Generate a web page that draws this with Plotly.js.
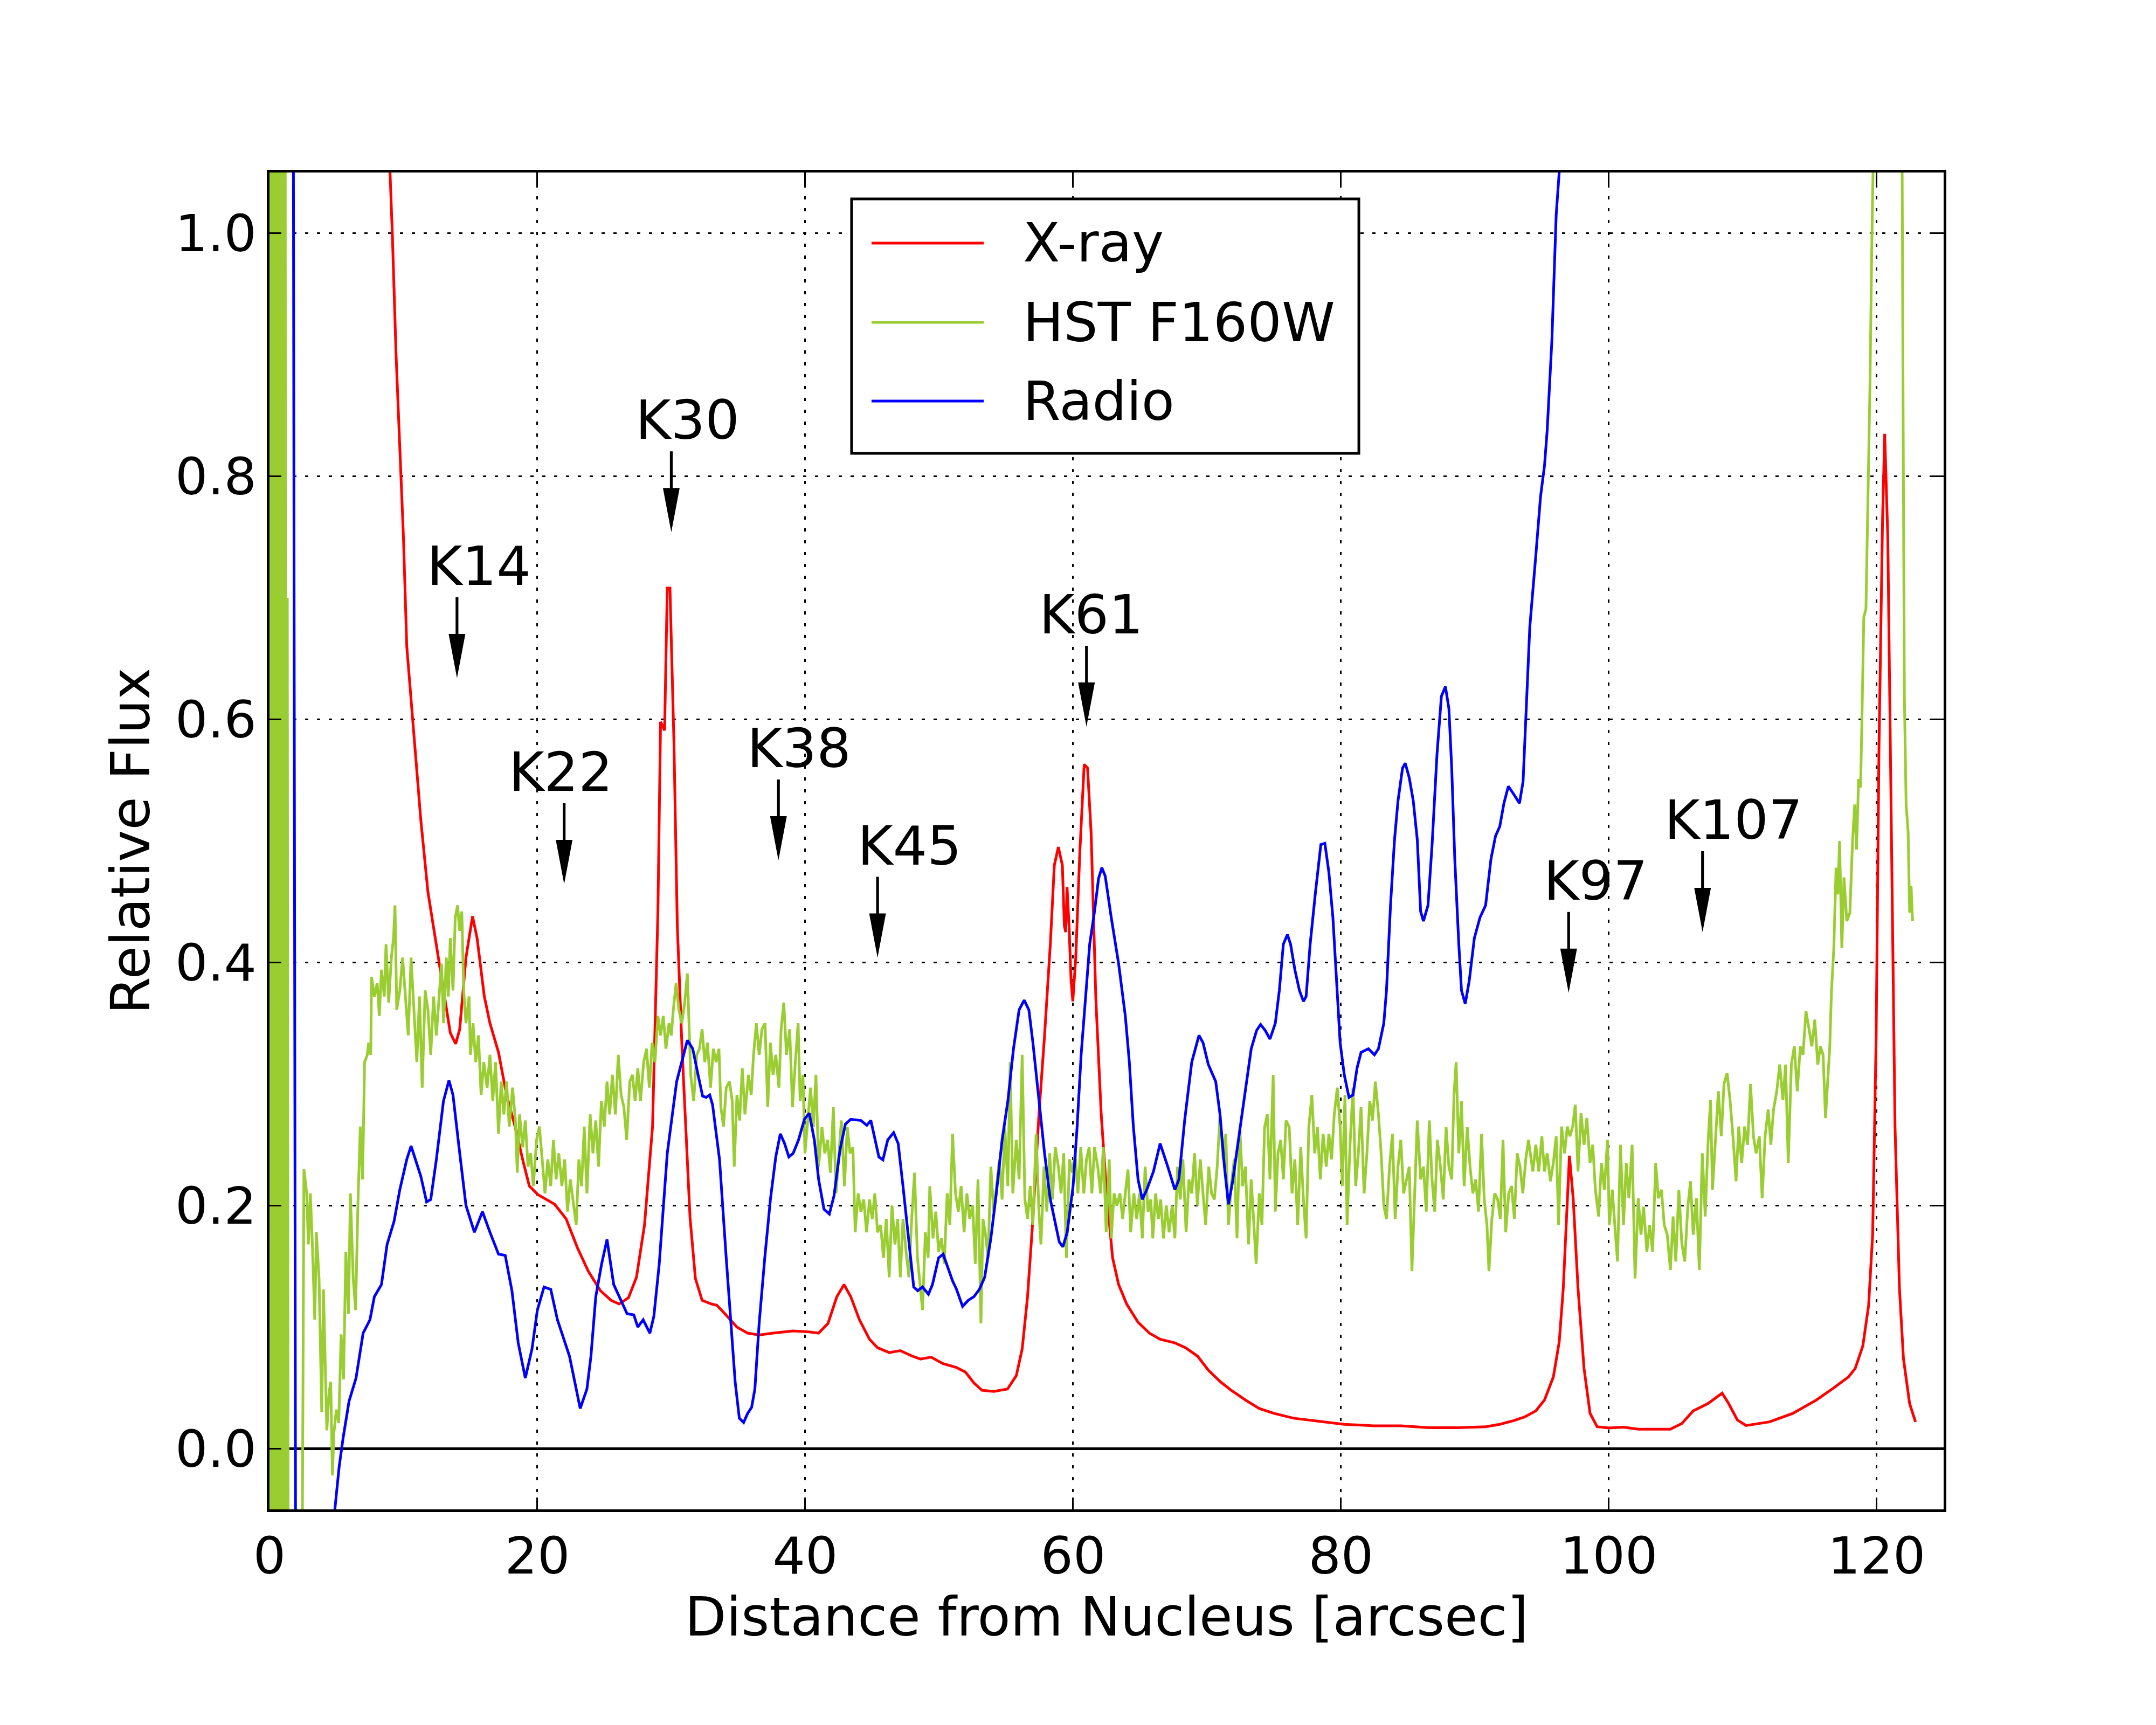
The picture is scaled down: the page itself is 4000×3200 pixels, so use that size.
<!DOCTYPE html>
<html>
<head>
<meta charset="utf-8">
<script src="https://cdn.plot.ly/plotly-3.0.1.min.js"></script>
<style>html,body{margin:0;padding:0;background:#fff;}#chart{width:4000px;height:3200px;}</style>
</head>
<body>
<div id="chart"></div>
<script>
// ---------------- data ----------------
const xrayX = [0,4,7.5,8.5,9.0,9.17,9.45,9.8,10.0,10.25,10.67,11.3,11.83,12.46,12.99,13.5,13.9,14.2,14.67,15.16,15.5,16.04,16.46,17.1,17.7,18.36,18.9,19.4,20.04,21.3,22.15,23.0,23.8,24.7,25.5,26.1,26.8,27.4,28.0,28.6,29.0,29.2,29.5,29.7,29.9,30.2,30.45,30.8,31.1,31.4,31.8,32.3,33.0,33.4,34.0,34.9,35.7,36.56,37.6,39.1,40.15,41.0,41.7,42.36,42.9,43.4,44.05,44.8,45.4,46.27,47.1,47.95,48.6,49.4,50.27,51.3,51.96,52.6,53.2,54.07,55.1,55.76,56.2,56.6,57.0,57.45,57.87,58.3,58.6,58.9,59.2,59.35,59.45,59.55,59.7,59.85,59.98,60.2,60.5,60.83,61.08,61.35,61.7,62.1,62.5,62.95,63.4,64.0,64.85,65.7,66.5,67.6,68.4,69.3,70.1,71.0,71.8,72.87,73.9,75.0,76.46,78.1,80.25,82.4,84.5,86.6,88.7,90.8,91.86,92.9,93.7,94.55,95.2,95.86,96.3,96.6,96.84,97.06,97.34,97.7,98.15,98.6,99.13,100.0,101.1,102.2,103.3,104.6,105.45,106.3,107.4,108.46,108.9,109.6,110.25,112.0,113.74,115.5,116.8,117.9,118.4,118.97,119.4,119.7,119.96,120.17,120.44,120.6,120.83,121.05,121.37,121.7,122.0,122.46,122.9];
const xrayY = [5,3.2,1.9,1.3,1.05,1.0,0.9,0.8,0.75,0.66,0.603,0.517,0.458,0.415,0.377,0.342,0.333,0.345,0.404,0.438,0.42,0.372,0.35,0.326,0.291,0.264,0.238,0.216,0.209,0.201,0.189,0.165,0.146,0.130,0.122,0.119,0.124,0.141,0.184,0.265,0.442,0.598,0.591,0.708,0.708,0.58,0.43,0.33,0.26,0.19,0.14,0.122,0.119,0.118,0.111,0.1,0.095,0.0935,0.095,0.0968,0.0962,0.095,0.103,0.125,0.135,0.125,0.106,0.09,0.083,0.079,0.0806,0.0763,0.0737,0.0753,0.07,0.0667,0.063,0.054,0.048,0.047,0.049,0.06,0.082,0.125,0.189,0.275,0.34,0.415,0.48,0.495,0.48,0.43,0.425,0.462,0.43,0.385,0.368,0.404,0.49,0.563,0.56,0.506,0.37,0.275,0.211,0.157,0.135,0.119,0.104,0.095,0.09,0.087,0.083,0.076,0.0645,0.055,0.048,0.04,0.033,0.029,0.025,0.0226,0.02,0.0188,0.0188,0.0172,0.0172,0.018,0.02,0.023,0.026,0.031,0.04,0.059,0.088,0.132,0.191,0.241,0.206,0.132,0.066,0.029,0.018,0.017,0.0176,0.016,0.016,0.016,0.0206,0.031,0.037,0.0456,0.038,0.0235,0.019,0.022,0.029,0.04,0.05,0.059,0.066,0.0846,0.118,0.176,0.338,0.574,0.765,0.835,0.75,0.544,0.265,0.132,0.074,0.037,0.022];

const hstX = [0.05,0.12,0.2,0.28,0.36,0.44,0.52,0.6,0.68,0.76,0.84,0.92,1.0,1.08,1.16,1.24,1.33,1.4,1.9,2.4,
2.57,2.78,2.9,3.05,3.2,3.38,3.5,3.7,3.9,4.03,4.28,4.45,4.57,4.7,4.8,4.99,5.17,5.35,5.53,5.7,5.9,6.04,6.25,6.43,6.6,6.78,6.95,7.1,7.3,7.4,7.56,7.62,7.83,8.04,8.2,8.36,8.57,8.7,8.9,9.1,9.26,9.37,9.5,9.73,9.94,10.15,10.36,10.57,10.78,11.0,11.2,11.4,11.62,11.83,12.04,12.25,12.46,12.67,12.84,13.0,13.2,13.35,13.5,13.7,13.87,14.04,14.2,14.36,14.5,14.67,14.9,15.0,15.2,15.4,15.6,15.8,16.0,16.25,16.46,16.67,16.88,17.1,17.3,17.5,17.7,17.9,18.15,18.36,18.5,18.67,18.9,19.1,19.3,19.5,19.7,19.94,20.15,20.36,20.57,20.78,21.0,21.2,21.4,21.6,21.83,22.04,22.25,22.46,22.67,22.9,23.1,23.3,23.5,23.7,23.94,24.15,24.36,24.57,24.78,25.0,25.2,25.4,25.6,25.83,26.04,26.25,26.46,26.67,26.9,27.1,27.3,27.5,27.7,27.94,28.15,28.36,28.57,28.78,29.0,29.2,29.4,29.6,29.83,30.0,30.15,30.36,30.57,30.78,31.0,31.2,31.45,31.67,31.9,32.1,32.3,32.5,32.7,32.93,33.14,33.35,33.56,33.7,33.9,34.1,34.35,34.55,34.7,34.9,35.1,35.3,35.5,35.76,35.97,36.14,36.35,36.56,36.77,37.0,37.2,37.4,37.6,37.8,38.04,38.2,38.4,38.6,38.84,39.05,39.26,39.47,39.62,39.83,39.98,40.2,40.4,40.6,40.8,41.0,41.25,41.46,41.67,41.88,42.1,42.3,42.5,42.7,42.93,43.14,43.35,43.56,43.73,43.95,44.16,44.37,44.58,44.8,45.0,45.2,45.4,45.63,45.84,46.05,46.27,46.48,46.7,46.9,47.1,47.3,47.53,47.74,47.95,48.16,48.38,48.6,48.76,48.97,49.18,49.3,49.54,49.75,49.96,50.17,50.38,50.6,50.8,51.0,51.22,51.43,51.64,51.86,52.07,52.28,52.5,52.7,52.9,53.12,53.27,53.44,53.65,53.86,54.07,54.28,54.5,54.7,54.9,55.13,55.3,55.5,55.76,55.97,56.2,56.4,56.6,56.8,57.0,57.24,57.45,57.6,57.83,58.04,58.25,58.46,58.67,58.9,59.1,59.3,59.5,59.73,59.94,60.15,60.36,60.57,60.8,61.0,61.2,61.4,61.6,61.84,62.05,62.26,62.47,62.7,62.85,63.06,63.27,63.5,63.7,63.9,64.1,64.3,64.54,64.75,64.96,65.17,65.38,65.6,65.8,65.95,66.16,66.37,66.54,66.75,66.96,67.17,67.4,67.6,67.8,68.0,68.2,68.44,68.65,68.86,69.07,69.28,69.5,69.7,69.9,70.13,70.34,70.55,70.76,70.97,71.2,71.4,71.6,71.8,72.03,72.24,72.45,72.66,72.87,73.1,73.3,73.5,73.67,73.9,74.1,74.3,74.5,74.7,74.94,75.1,75.3,75.5,75.7,75.9,76.14,76.35,76.56,76.77,77.0,77.2,77.4,77.6,77.83,78.04,78.25,78.46,78.67,78.9,79.1,79.3,79.5,79.73,79.94,80.1,80.3,80.46,80.67,80.9,81.1,81.3,81.5,81.73,81.94,82.15,82.36,82.57,82.8,83.0,83.2,83.4,83.63,83.84,84.05,84.26,84.47,84.68,84.9,85.1,85.3,85.5,85.7,85.95,86.16,86.37,86.6,86.8,87.0,87.2,87.43,87.64,87.85,88.06,88.27,88.44,88.6,88.8,89.0,89.2,89.43,89.64,89.85,90.06,90.27,90.5,90.7,90.9,91.05,91.27,91.48,91.7,91.9,92.1,92.3,92.53,92.74,92.95,93.16,93.37,93.58,93.8,94.0,94.2,94.33,94.55,94.77,95.0,95.2,95.4,95.64,95.86,96.07,96.25,96.47,96.7,96.9,97.1,97.3,97.5,97.7,97.93,98.15,98.36,98.6,98.8,99.0,99.24,99.45,99.67,99.9,100.04,100.26,100.5,100.65,100.87,101.1,101.3,101.5,101.74,101.96,102.2,102.4,102.6,102.84,103.05,103.27,103.5,103.7,103.93,104.14,104.36,104.6,104.8,105.0,105.23,105.45,105.67,105.9,106.1,106.3,106.54,106.76,106.98,107.2,107.4,107.6,107.74,107.96,108.18,108.4,108.6,108.83,109.05,109.27,109.5,109.7,109.92,110.14,110.36,110.58,110.8,111.0,111.24,111.45,111.67,111.9,112.1,112.3,112.54,112.76,113.0,113.2,113.4,113.63,113.85,114.07,114.3,114.5,114.72,114.94,115.16,115.38,115.6,115.8,116.0,116.18,116.36,116.5,116.62,116.8,116.97,117.1,117.23,117.4,117.56,117.77,118.0,118.2,118.36,118.5,118.65,118.8,118.93,119.04,119.2,119.3,119.4,119.5,119.63,119.74,120.3,121.0,121.6,121.9,121.98,122.07,122.2,122.35,122.46,122.57,122.68];
const hstY = [1.6,-0.3,1.6,-0.3,1.6,-0.3,1.6,-0.3,1.6,-0.3,1.5,-0.3,1.5,-0.3,1.4,-0.2,0.70,-0.2,-0.25,-0.2,
0.23,0.21,0.168,0.21,0.168,0.106,0.178,0.14,0.03,0.131,0.015,0.046,0.055,-0.022,0.012,0.032,0.021,0.094,0.057,0.162,0.111,0.21,0.14,0.114,0.2,0.265,0.2215,0.318,0.324,0.334,0.324,0.388,0.372,0.383,0.356,0.394,0.372,0.415,0.367,0.404,0.42,0.447,0.361,0.377,0.404,0.372,0.34,0.404,0.361,0.318,0.372,0.297,0.377,0.361,0.324,0.372,0.34,0.377,0.399,0.35,0.404,0.372,0.42,0.377,0.437,0.447,0.426,0.442,0.377,0.35,0.372,0.324,0.35,0.318,0.34,0.291,0.318,0.297,0.324,0.286,0.318,0.259,0.302,0.275,0.302,0.265,0.297,0.27,0.227,0.275,0.248,0.27,0.232,0.243,0.216,0.254,0.265,0.238,0.21,0.238,0.216,0.254,0.2215,0.243,0.216,0.238,0.195,0.2215,0.205,0.184,0.238,0.216,0.265,0.21,0.275,0.243,0.27,0.232,0.286,0.265,0.302,0.275,0.3075,0.275,0.324,0.291,0.281,0.254,0.302,0.3075,0.286,0.313,0.286,0.318,0.329,0.297,0.334,0.318,0.356,0.34,0.356,0.329,0.35,0.34,0.361,0.383,0.361,0.35,0.367,0.391,0.3075,0.286,0.324,0.329,0.345,0.318,0.334,0.297,0.329,0.318,0.329,0.281,0.265,0.297,0.302,0.286,0.232,0.291,0.27,0.313,0.275,0.3075,0.291,0.324,0.35,0.324,0.345,0.35,0.281,0.334,0.3075,0.324,0.297,0.345,0.367,0.324,0.345,0.281,0.318,0.35,0.286,0.3075,0.243,0.275,0.297,0.2645,0.3075,0.232,0.2645,0.243,0.254,0.227,0.281,0.21,0.243,0.27,0.216,0.2645,0.243,0.248,0.178,0.21,0.195,0.205,0.178,0.205,0.189,0.21,0.178,0.184,0.157,0.189,0.141,0.2,0.168,0.189,0.141,0.189,0.162,0.141,0.189,0.227,0.157,0.13,0.114,0.178,0.157,0.216,0.173,0.195,0.162,0.173,0.152,0.21,0.184,0.259,0.21,0.195,0.216,0.178,0.21,0.189,0.2,0.152,0.2215,0.103,0.189,0.178,0.157,0.232,0.195,0.216,0.238,0.205,0.2645,0.216,0.318,0.21,0.254,0.2215,0.324,0.205,0.189,0.216,0.184,0.259,0.195,0.168,0.232,0.195,0.243,0.205,0.248,0.232,0.21,0.243,0.157,0.238,0.227,0.243,0.21,0.248,0.21,0.238,0.248,0.21,0.248,0.232,0.21,0.248,0.178,0.238,0.173,0.21,0.2,0.21,0.189,0.21,0.2296,0.178,0.21,0.189,0.21,0.173,0.232,0.195,0.205,0.173,0.21,0.189,0.205,0.173,0.2,0.178,0.2,0.173,0.232,0.205,0.238,0.178,0.2215,0.21,0.243,0.2,0.238,0.21,0.184,0.232,0.21,0.205,0.232,0.275,0.238,0.259,0.184,0.216,0.238,0.173,0.2645,0.216,0.232,0.168,0.2215,0.184,0.152,0.21,0.184,0.2645,0.275,0.2215,0.3075,0.195,0.243,0.254,0.2215,0.27,0.2645,0.21,0.238,0.184,0.248,0.205,0.173,0.2645,0.291,0.243,0.2645,0.2215,0.259,0.232,0.259,0.238,0.275,0.297,0.2645,0.216,0.291,0.184,0.248,0.297,0.216,0.243,0.281,0.21,0.243,0.286,0.27,0.302,0.275,0.243,0.2,0.189,0.232,0.259,0.189,0.232,0.254,0.21,0.2215,0.232,0.146,0.205,0.27,0.2215,0.232,0.195,0.27,0.2215,0.195,0.254,0.232,0.205,0.2645,0.232,0.2215,0.291,0.318,0.243,0.286,0.216,0.2645,0.232,0.21,0.2215,0.195,0.259,0.205,0.184,0.146,0.189,0.21,0.205,0.189,0.254,0.178,0.21,0.216,0.189,0.243,0.232,0.21,0.238,0.254,0.238,0.228,0.25,0.228,0.257,0.228,0.243,0.22,0.235,0.257,0.184,0.265,0.243,0.265,0.257,0.265,0.283,0.228,0.276,0.25,0.272,0.235,0.25,0.213,0.191,0.235,0.213,0.254,0.184,0.213,0.176,0.154,0.25,0.184,0.235,0.206,0.25,0.14,0.206,0.176,0.199,0.162,0.184,0.162,0.235,0.206,0.213,0.184,0.176,0.147,0.191,0.154,0.213,0.169,0.154,0.199,0.22,0.176,0.206,0.147,0.243,0.191,0.25,0.287,0.213,0.257,0.294,0.257,0.3,0.309,0.287,0.257,0.22,0.265,0.235,0.265,0.25,0.3,0.257,0.243,0.257,0.206,0.257,0.279,0.25,0.279,0.294,0.316,0.287,0.316,0.235,0.316,0.331,0.294,0.331,0.324,0.36,0.346,0.331,0.353,0.316,0.331,0.324,0.272,0.309,0.331,0.375,0.412,0.478,0.456,0.5,0.412,0.47,0.434,0.441,0.5,0.53,0.493,0.551,0.544,0.618,0.684,0.691,0.75,0.831,0.875,0.985,1.06,1.5,1.9,1.4,1.06,0.838,0.618,0.53,0.507,0.441,0.463,0.434];

const radioX = [0,1.5,1.78,1.95,2.3,4.0,4.6,4.88,5.2,5.5,5.94,6.46,6.99,7.5,7.83,8.36,8.78,9.3,9.73,10.25,10.57,10.9,11.3,11.73,12.04,12.46,12.99,13.4,13.7,14.15,14.67,15.3,15.9,16.46,17.1,17.6,18.1,18.57,19.1,19.6,20.0,20.5,21.0,21.5,22.4,23.2,23.7,24.0,24.36,24.8,25.2,25.7,26.4,26.7,27.2,27.5,27.9,28.4,28.7,29.1,29.7,30.4,31.2,31.6,32.0,32.34,32.6,32.87,33.08,33.6,34.1,34.45,34.77,35.08,35.4,35.7,36.0,36.24,36.56,36.98,37.4,37.8,38.14,38.46,38.78,39.1,39.5,39.94,40.3,40.68,41.0,41.4,41.8,42.15,42.6,43.0,43.4,44.16,44.6,44.9,45.2,45.5,45.8,46.16,46.6,46.94,47.3,47.74,48.1,48.4,48.76,49.2,49.5,49.96,50.3,50.65,51.0,51.3,51.75,52.17,52.6,53.0,53.4,53.86,54.28,54.7,55.13,55.55,55.97,56.35,56.7,57.0,57.45,57.87,58.3,58.7,58.97,59.24,59.56,60.0,60.3,60.6,60.93,61.24,61.6,61.9,62.15,62.4,62.85,63.4,63.9,64.2,64.5,64.85,65.17,65.5,66.0,66.5,67.07,67.6,67.9,68.33,68.86,69.4,69.7,70.1,70.65,70.97,71.3,71.6,71.9,72.34,72.87,73.3,73.7,74.0,74.35,74.7,75.1,75.4,75.7,76.0,76.24,76.56,76.9,77.2,77.4,77.7,78.1,78.5,78.8,79.1,79.4,79.7,79.94,80.25,80.6,80.9,81.2,81.5,82.05,82.5,82.8,83.2,83.4,83.7,84.0,84.26,84.6,84.8,85.1,85.4,85.7,85.95,86.16,86.5,86.8,87.17,87.5,87.8,88.06,88.27,88.5,88.8,89.0,89.28,89.58,89.96,90.38,90.8,91.2,91.54,91.86,92.17,92.5,92.87,93.33,93.6,93.86,94.1,94.55,94.9,95.2,95.4,95.75,96.07,96.36,96.8,97.5];
const radioY = [2.6,2.0,1.1,-0.1,-0.4,-0.3,-0.12,-0.05,-0.015,0.009,0.039,0.058,0.095,0.106,0.125,0.135,0.168,0.187,0.213,0.238,0.249,0.238,0.224,0.203,0.205,0.238,0.286,0.303,0.291,0.248,0.2,0.178,0.195,0.178,0.16,0.159,0.13,0.087,0.058,0.082,0.114,0.133,0.131,0.106,0.076,0.033,0.049,0.076,0.125,0.152,0.172,0.135,0.119,0.111,0.110,0.1,0.106,0.095,0.109,0.152,0.243,0.302,0.336,0.329,0.3075,0.29,0.289,0.291,0.283,0.238,0.157,0.103,0.0548,0.025,0.0215,0.029,0.034,0.049,0.103,0.157,0.205,0.24,0.259,0.251,0.24,0.243,0.254,0.271,0.276,0.254,0.2215,0.197,0.193,0.208,0.246,0.267,0.271,0.27,0.266,0.27,0.256,0.24,0.2376,0.254,0.26,0.251,0.216,0.168,0.133,0.13,0.133,0.127,0.135,0.157,0.16,0.149,0.138,0.131,0.117,0.122,0.125,0.131,0.141,0.173,0.211,0.254,0.286,0.329,0.361,0.369,0.361,0.334,0.286,0.243,0.205,0.184,0.17,0.166,0.178,0.216,0.2645,0.324,0.372,0.415,0.442,0.469,0.478,0.471,0.437,0.399,0.356,0.318,0.265,0.2215,0.205,0.213,0.228,0.251,0.232,0.213,0.2215,0.27,0.318,0.34,0.334,0.316,0.302,0.275,0.232,0.201,0.219,0.254,0.297,0.329,0.344,0.349,0.344,0.337,0.35,0.377,0.415,0.423,0.415,0.394,0.377,0.368,0.372,0.415,0.458,0.497,0.498,0.474,0.437,0.383,0.334,0.3075,0.289,0.291,0.313,0.326,0.329,0.324,0.329,0.35,0.377,0.447,0.501,0.533,0.56,0.564,0.552,0.533,0.501,0.442,0.434,0.447,0.496,0.571,0.619,0.627,0.609,0.56,0.485,0.415,0.377,0.366,0.385,0.42,0.437,0.447,0.485,0.504,0.512,0.531,0.545,0.539,0.531,0.549,0.614,0.676,0.735,0.783,0.809,0.838,0.912,1.015,1.06,1.25,1.5];

// knot labels: name, knot position [arcsec], arrow tip level
const knotNames = ['K14','K22','K30','K38','K45','K61','K97','K107'];
const knotPos   = [14.0, 22.0, 30.0, 38.0, 45.4, 61.0, 97.0, 107.0];
const knotTip   = [0.634, 0.4645, 0.754, 0.484, 0.404, 0.594, 0.375, 0.425];
const knotTextX = [12.1, 18.25, 27.7, 36.0, 44.25, 57.85, 95.5, 104.5];

// ---------------- styling ----------------
const FONT = 'DejaVu Sans, Liberation Sans, Arial, sans-serif';
const LW = 5;

const traces = [
  {x: xrayX, y: xrayY, name: 'X-ray', mode: 'lines', showlegend: false, line: {color: '#ff0000', width: LW}},
  {x: hstX, y: hstY, name: 'HST F160W', mode: 'lines', showlegend: false, line: {color: '#9acd32', width: LW}},
  {x: radioX, y: radioY, name: 'Radio', mode: 'lines', showlegend: false, line: {color: '#0000ff', width: LW}}
];

const annotations = [];
const shapes = [];
const textOffset = 0.092; // label centre above arrow tip
knotNames.forEach((name, i) => {
  annotations.push({
    x: knotTextX[i], y: knotTip[i] + textOffset, xref: 'x', yref: 'y',
    text: name, showarrow: false, xanchor: 'left', yanchor: 'middle', xshift: -11,
    font: {family: FONT, size: 100, color: '#000'}
  });
  shapes.push({
    type: 'path', xref: 'x', yref: 'y', xsizemode: 'pixel', ysizemode: 'pixel',
    xanchor: knotPos[i], yanchor: knotTip[i],
    path: 'M-2.6,150 L2.6,150 L2.6,82 L15.5,82 L0,0 L-15.5,82 L-2.6,82 Z',
    fillcolor: '#000', line: {width: 0}
  });
});

// legend box (drawn in paper coordinates, matching the original's legend frame)
const legBox = {x0: 0.3477, x1: 0.6507, y0: 0.7899, y1: 0.9802};
const legRows = [0.9472, 0.8879, 0.8290];
shapes.push({type: 'rect', xref: 'paper', yref: 'paper', x0: legBox.x0, x1: legBox.x1, y0: legBox.y0, y1: legBox.y1,
  fillcolor: '#fff', line: {color: '#000', width: 5}});
traces.forEach((t, i) => {
  shapes.push({type: 'line', xref: 'paper', yref: 'paper', x0: 0.3596, x1: 0.4266, y0: legRows[i], y1: legRows[i],
    line: {color: t.line.color, width: LW}});
  annotations.push({x: 0.4523, y: legRows[i], xref: 'paper', yref: 'paper', text: t.name, showarrow: false,
    xanchor: 'left', yanchor: 'middle', xshift: -9, font: {family: FONT, size: 100, color: '#000'}});
});

const axisCommon = {
  showline: true, linecolor: '#000', linewidth: 5, mirror: 'ticks',
  ticks: 'inside', ticklen: 22, tickwidth: 3, tickcolor: '#000',
  showgrid: true, gridcolor: '#000', gridwidth: 2.8, griddash: '5.5px,16.5px',
  tickfont: {family: FONT, size: 95, color: '#000'},
  automargin: false
};

const layout = {
  width: 4000, height: 3200,
  margin: {l: 500, r: 394, t: 320, b: 400, pad: 0},
  paper_bgcolor: '#fff', plot_bgcolor: '#fff',
  font: {family: FONT, color: '#000'},
  showlegend: false,
  xaxis: Object.assign({}, axisCommon, {
    range: [0, 125], tick0: 0, dtick: 20, zeroline: false,
    title: {text: 'Distance from Nucleus [arcsec]', font: {family: FONT, size: 100, color: '#000'}, standoff: 0}
  }),
  yaxis: Object.assign({}, axisCommon, {
    range: [-0.05, 1.05], tick0: 0, dtick: 0.2, tickformat: '.1f',
    zeroline: true, zerolinecolor: '#000', zerolinewidth: 4.5,
    title: {text: 'Relative Flux', font: {family: FONT, size: 100, color: '#000'}, standoff: 15}
  }),
  annotations: annotations,
  shapes: shapes
};

Plotly.newPlot('chart', traces, layout, {displayModeBar: false, responsive: false});
</script>
</body>
</html>
